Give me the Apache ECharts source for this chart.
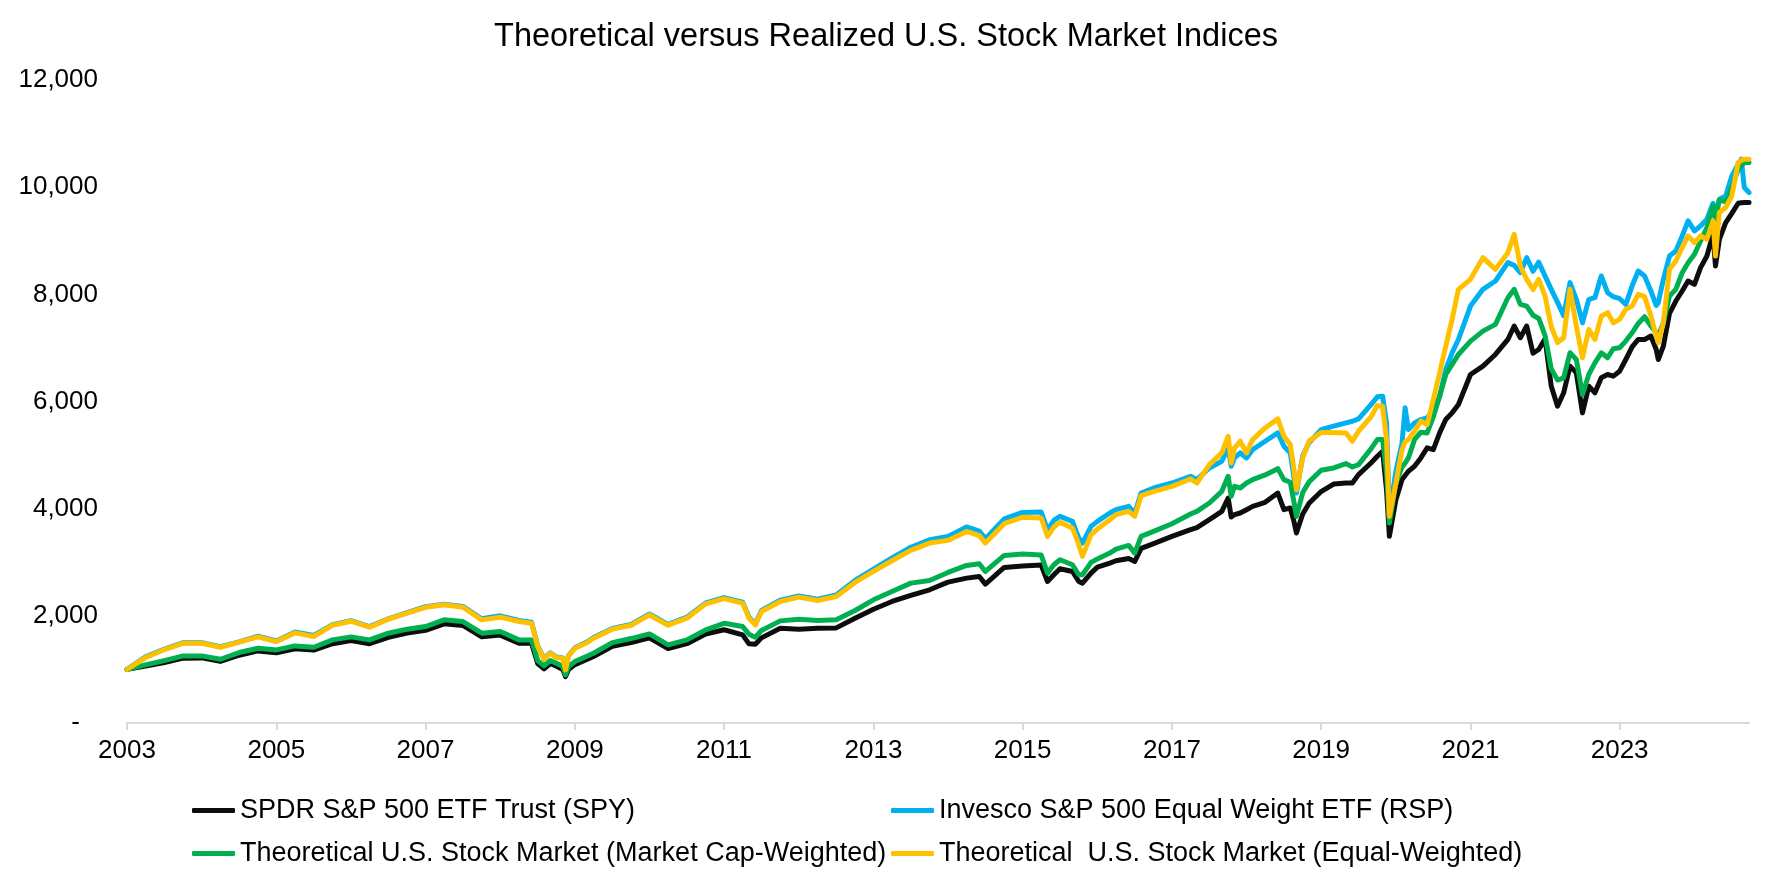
<!DOCTYPE html>
<html>
<head>
<meta charset="utf-8">
<script src="https://cdn.jsdelivr.net/npm/echarts@6/dist/echarts.min.js"></script>
<style>
html,body{margin:0;padding:0;background:#fff;}
#chart{width:1772px;height:885px;}
</style>
</head>
<body>
<div id="chart"></div>
<script>
// ---- data ----
const dates = [
'2003-04-24','2003-07-24','2003-10-24','2004-01-24','2004-04-24','2004-07-24','2004-10-24','2005-01-24',
'2005-04-24','2005-07-24','2005-10-24','2006-01-24','2006-04-24','2006-07-24','2006-10-24','2007-01-24',
'2007-04-24','2007-07-24','2007-10-24','2008-01-24','2008-04-24','2008-07-24','2008-09-24','2008-10-24',
'2008-11-24','2008-12-24','2009-01-24','2009-02-24','2009-03-09','2009-03-24','2009-04-24','2009-06-24',
'2009-07-24','2009-10-24','2010-01-24','2010-04-24','2010-07-24','2010-10-24','2011-01-24','2011-04-24',
'2011-07-24','2011-08-24','2011-09-24','2011-10-24','2012-01-24','2012-04-24','2012-07-24','2012-10-24',
'2013-01-24','2013-04-24','2013-07-24','2013-10-24','2014-01-24','2014-04-24','2014-07-24','2014-09-24',
'2014-10-24','2015-01-24','2015-04-24','2015-07-24','2015-08-24','2015-09-24','2015-10-24','2015-12-24',
'2016-01-24','2016-02-11','2016-03-24','2016-04-24','2016-06-24','2016-07-24','2016-09-24','2016-10-24',
'2016-11-24','2017-01-24','2017-04-24','2017-07-24','2017-08-24','2017-10-24','2017-12-24','2018-01-24',
'2018-02-08','2018-02-24','2018-03-24','2018-04-24','2018-05-24','2018-07-24','2018-09-24','2018-10-24',
'2018-11-24','2018-12-10','2018-12-24','2019-01-24','2019-02-24','2019-04-24','2019-06-24','2019-08-24',
'2019-09-24','2019-10-24','2019-12-24','2020-01-24','2020-02-19','2020-03-09','2020-03-23','2020-04-24',
'2020-05-24','2020-06-08','2020-06-24','2020-07-24','2020-08-24','2020-09-24','2020-10-24','2020-11-24',
'2020-12-24','2021-01-24','2021-02-24','2021-04-24','2021-06-24','2021-08-24','2021-10-24','2021-11-24',
'2021-12-24','2022-01-24','2022-02-24','2022-03-24','2022-04-24','2022-05-24','2022-06-24','2022-07-24',
'2022-08-24','2022-09-24','2022-10-24','2022-11-24','2022-12-24','2023-01-24','2023-02-24','2023-03-24',
'2023-04-24','2023-05-24','2023-06-24','2023-07-24','2023-08-24','2023-09-24','2023-10-20','2023-10-30',
'2023-11-24','2023-12-24','2024-01-24','2024-02-24','2024-03-24','2024-04-24','2024-05-24','2024-06-24',
'2024-07-24','2024-08-05','2024-08-24','2024-09-24','2024-10-24','2024-11-24','2024-12-09','2024-12-24',
'2025-01-16'
];
const spy = [
1000,1065,1130,1210,1215,1150,1265,1345,1310,1385,1360,1480,1540,1480,1600,1680,
1730,1850,1820,1610,1640,1490,1490,1110,1010,1110,1060,1000,866,1000,1090,1190,
1240,1430,1500,1590,1390,1480,1660,1740,1645,1477,1470,1589,1769,1751,1769,1775,
1956,2124,2268,2380,2486,2629,2704,2735,2592,2903,2930,2947,2641,2766,2878,2828,
2641,2610,2797,2909,2984,3028,3071,3015,3258,3346,3483,3607,3645,3794,3950,4199,
3844,3888,3919,3981,4043,4118,4292,3981,4012,3794,3545,3900,4100,4320,4460,4479,
4479,4635,4853,4978,5071,4355,3483,4168,4542,4620,4697,4791,4947,5134,5102,5414,
5663,5788,5943,6504,6660,6878,7158,7408,7190,7408,6900,6970,7170,6290,5912,6162,
6660,6535,5788,6286,6162,6442,6504,6473,6566,6784,7021,7158,7158,7221,6971,6784,
7034,7644,7875,8062,8249,8186,8498,8716,9121,8529,9027,9339,9513,9700,9710,9712,
9712
];
const rsp = [
1000,1235,1380,1500,1500,1425,1515,1620,1530,1700,1635,1835,1910,1800,1945,2060,
2170,2215,2175,1945,2000,1915,1880,1440,1200,1310,1230,1215,995,1260,1405,1515,
1595,1765,1840,2035,1840,1975,2240,2340,2255,1975,1850,2100,2290,2370,2310,2390,
2660,2870,3080,3280,3420,3480,3660,3580,3440,3810,3930,3937,3607,3782,3856,3763,
3452,3358,3669,3763,3919,3981,4043,3919,4292,4386,4479,4604,4542,4760,4884,5134,
4791,4947,5040,4947,5102,5258,5414,5165,5040,4635,4292,4990,5230,5476,5540,5601,
5632,5676,5943,6087,6099,5601,3900,4700,5227,5881,5476,5601,5663,5694,5838,6099,
6598,6909,7158,7781,8093,8249,8591,8541,8404,8685,8430,8600,8340,8093,7850,7600,
8218,7906,7470,7906,7937,8342,8031,7956,7918,7812,8155,8435,8342,8062,7794,7844,
8280,8716,8809,9090,9370,9183,9277,9401,9700,9463,9775,9837,10211,10429,10522,9993,
9899
];
const theoCapWeighted = [
1000,1084,1165,1252,1252,1190,1315,1396,1364,1439,1414,1551,1607,1551,1676,1751,
1800,1925,1894,1676,1707,1551,1551,1165,1065,1165,1115,1053,897,1053,1146,1252,
1302,1501,1576,1663,1458,1551,1738,1860,1800,1657,1601,1726,1906,1938,1913,1925,
2099,2299,2455,2610,2660,2810,2941,2972,2828,3127,3155,3134,2797,2953,3046,2953,
2766,2766,2997,3059,3171,3246,3314,3171,3483,3576,3719,3900,3950,4106,4324,4604,
4230,4417,4386,4479,4542,4629,4747,4542,4492,4168,3856,4300,4500,4716,4760,4841,
4778,4822,5115,5289,5289,4666,3732,4479,4778,4850,4947,5289,5426,5414,5713,6099,
6504,6691,6878,7127,7314,7439,7937,8093,7812,7781,7610,7550,7230,6610,6400,6442,
6909,6784,6130,6504,6722,6909,6816,6984,7003,7127,7283,7457,7582,7408,7283,7221,
7470,7968,8093,8404,8591,8747,8996,9245,9650,9401,9762,9725,9993,10336,10400,10460,
10460
];
const theoEqualWeighted = [
1000,1221,1371,1489,1489,1414,1508,1607,1520,1682,1614,1825,1900,1788,1938,2050,
2160,2205,2162,1925,1975,1894,1863,1427,1190,1302,1221,1209,991,1250,1396,1501,
1582,1751,1825,2019,1825,1956,2224,2320,2237,1956,1832,2081,2268,2349,2286,2361,
2623,2828,3028,3221,3358,3408,3576,3495,3358,3719,3840,3825,3483,3657,3744,3638,
3327,3109,3514,3620,3794,3888,3950,3856,4243,4317,4417,4554,4479,4822,5040,5352,
4853,5134,5258,5040,5289,5507,5676,5352,5196,4791,4355,4950,5260,5420,5420,5414,
5258,5445,5713,5925,5912,5289,3856,4479,5102,5250,5289,5445,5632,5570,6037,6535,
7034,7532,8093,8280,8685,8467,8778,9121,8529,8280,8090,8280,7968,7400,7100,7190,
8093,7408,6816,7345,7158,7594,7657,7470,7532,7719,7781,7999,7956,7594,7221,7096,
7470,8467,8622,8872,9090,8965,9090,9027,9370,8716,9526,9619,9837,10460,10500,10522,
10522
];
const seriesNames = [
'SPDR S&P 500 ETF Trust (SPY)',
'Invesco S&P 500 Equal Weight ETF (RSP)',
'Theoretical U.S. Stock Market (Market Cap-Weighted)',
'Theoretical  U.S. Stock Market (Equal-Weighted)'
];
const seriesColors = ['#0d0d0d', '#00b0f0', '#00b050', '#ffc000'];
const tickYears = [2003,2005,2007,2009,2011,2013,2015,2017,2019,2021,2023];
const axisStart = '2003-04-24';
const axisEnd = '2025-01-16';

// ---- chart ----
const FONT = '"Liberation Sans", Arial, sans-serif';
function ts(s) { const p = s.split('-').map(Number); return new Date(p[0], p[1] - 1, p[2]).getTime(); }
const chart = echarts.init(document.getElementById('chart'), null, {renderer: 'canvas'});
const allValues = [spy, rsp, theoCapWeighted, theoEqualWeighted];
const tickValues = tickYears.map(y => new Date(y, 3, 24).getTime());
const xTimes = dates.map(ts);

const option = {
  animation: false,
  backgroundColor: '#ffffff',
  title: {
    text: 'Theoretical versus Realized U.S. Stock Market Indices',
    left: 'center',
    top: 16,
    textStyle: {fontFamily: FONT, fontSize: 32.5, fontWeight: 'normal', color: '#000'}
  },
  grid: {left: 127, right: 23, top: 80, bottom: 162},
  xAxis: {
    type: 'value',
    min: ts(axisStart),
    max: ts(axisEnd),
    axisLine: {show: true, lineStyle: {color: '#d9d9d9', width: 2}},
    axisTick: {show: true, customValues: tickValues, length: 7, lineStyle: {color: '#d9d9d9', width: 2}},
    axisLabel: {
      customValues: tickValues,
      margin: 15,
      fontFamily: FONT, fontSize: 26, color: '#000',
      formatter: v => String(new Date(v).getFullYear())
    },
    splitLine: {show: false}
  },
  yAxis: {
    type: 'value',
    min: 0, max: 12000, interval: 2000,
    axisLine: {show: false},
    axisTick: {show: false},
    splitLine: {show: false},
    axisLabel: {
      margin: 29,
      fontFamily: FONT, fontSize: 26, color: '#000',
      formatter: v => v === 0 ? '{d|-}' : v.toLocaleString('en-US'),
      rich: {d: {fontFamily: FONT, fontSize: 26, color: '#000', padding: [0, 18, 0, 0]}}
    }
  },
  legend: [
    {
      orient: 'vertical', left: 192, top: 797, padding: 0, itemGap: 16,
      itemWidth: 43, itemHeight: 5, icon: 'roundRect',
      data: [seriesNames[0], seriesNames[2]],
      textStyle: {fontFamily: FONT, fontSize: 27, color: '#000', lineHeight: 27}
    },
    {
      orient: 'vertical', left: 891, top: 797, padding: 0, itemGap: 16,
      itemWidth: 43, itemHeight: 5, icon: 'roundRect',
      data: [seriesNames[1], seriesNames[3]],
      textStyle: {fontFamily: FONT, fontSize: 27, color: '#000', lineHeight: 27}
    }
  ],
  series: allValues.map((vals, i) => ({
    name: seriesNames[i],
    type: 'line',
    data: xTimes.map((t, j) => [t, vals[j]]),
    showSymbol: false,
    symbol: 'none',
    color: seriesColors[i],
    lineStyle: {color: seriesColors[i], width: 5, cap: 'round', join: 'round'},
    itemStyle: {color: seriesColors[i]},
    z: 2 + i
  }))
};
chart.setOption(option);
</script>
</body>
</html>
